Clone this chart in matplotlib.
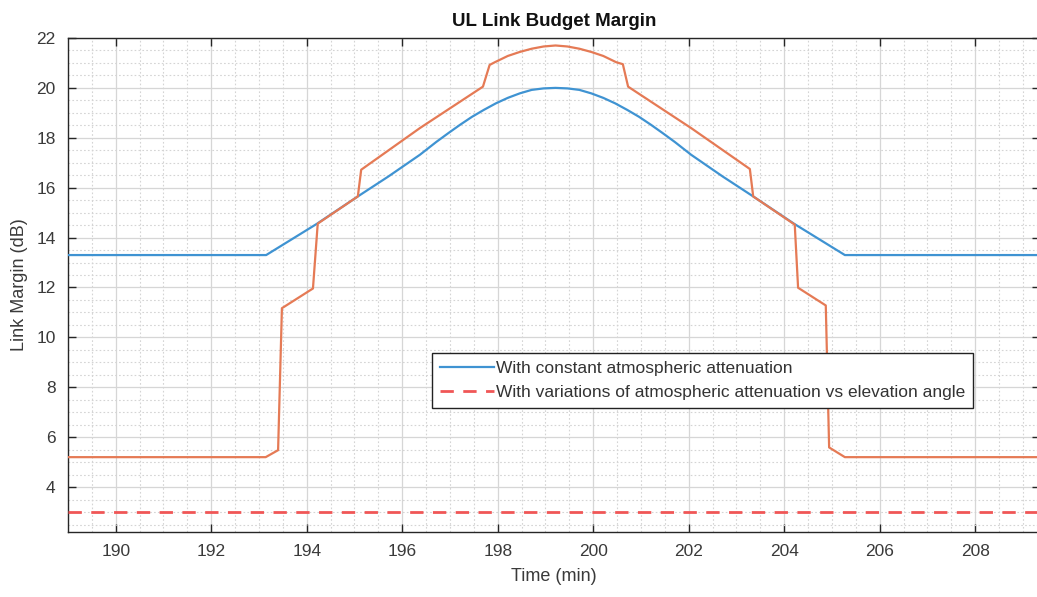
import matplotlib
matplotlib.use("Agg")
import matplotlib.pyplot as plt
from matplotlib.ticker import MultipleLocator

plt.rcParams['font.family'] = ['Liberation Sans', 'DejaVu Sans']

# Link margin with constant atmospheric attenuation (time in min, margin in dB)
t_const = [189.0, 193.15, 194.21, 195.07, 195.71, 196.37, 196.71, 196.96, 197.21,
           197.46, 197.71, 197.96, 198.21, 198.46, 198.71, 198.96, 199.21, 199.46,
           199.71, 199.96, 200.21, 200.46, 200.71, 200.96, 201.21, 201.46, 201.71,
           202.05, 202.71, 203.35, 204.21, 205.27, 209.4]
m_const = [13.3, 13.3, 14.55, 15.65, 16.45, 17.32, 17.83, 18.18, 18.52,
           18.84, 19.12, 19.38, 19.6, 19.78, 19.92, 19.98, 20.0, 19.98,
           19.92, 19.78, 19.6, 19.38, 19.12, 18.84, 18.52, 18.18, 17.83,
           17.32, 16.45, 15.65, 14.55, 13.3, 13.3]

# Link margin with attenuation varying with elevation angle
t_var = [189.0, 193.14, 193.40, 193.48, 194.13, 194.23, 195.07, 195.14, 196.37,
         197.69, 197.83, 197.94, 198.21, 198.46, 198.71, 198.96, 199.21, 199.46,
         199.71, 199.96, 200.21, 200.48, 200.62, 200.73, 202.05, 203.28, 203.35,
         204.22, 204.29, 204.87, 204.94, 205.27, 209.4]
m_var = [5.2, 5.2, 5.48, 11.17, 11.96, 14.56, 15.65, 16.72, 18.39,
         20.05, 20.92, 21.03, 21.28, 21.44, 21.57, 21.66, 21.7, 21.66,
         21.57, 21.44, 21.28, 21.03, 20.95, 20.05, 18.39, 16.75, 15.65,
         14.52, 11.99, 11.28, 5.59, 5.2, 5.2]

# Required margin threshold
threshold = 3.0

x_ticks = [190, 192, 194, 196, 198, 200, 202, 204, 206, 208]
y_ticks = [4, 6, 8, 10, 12, 14, 16, 18, 20, 22]

label_const = "With constant atmospheric attenuation"
label_var = "With variations of atmospheric attenuation vs elevation angle"

W, H = 1037, 597
fig = plt.figure(figsize=(W / 100, H / 100), dpi=100)
ax = fig.add_axes([68 / W, 65 / H, 971.7 / W, 494 / H])

dark = "#262626"
c_blue = "#3f93d2"
c_orange = "#e57a55"
c_red = "#f05656"

l1, = ax.plot(t_const, m_const, color=c_blue, lw=1.6, zorder=3)
ax.plot(t_var, m_var, color=c_orange, lw=1.6, zorder=3)
l2, = ax.plot([189.0, 209.4], [threshold, threshold], color=c_red, lw=2.0,
              dashes=(4.8, 3.4), zorder=3)

ax.set_xlim(189.0, 209.35)
ax.set_ylim(2.2, 22)
ax.set_xticks(x_ticks)
ax.set_yticks(y_ticks)
ax.xaxis.set_minor_locator(MultipleLocator(0.5))
ax.yaxis.set_minor_locator(MultipleLocator(0.5))

ax.grid(which='major', color='#d6d6d6', lw=0.9, zorder=0)
ax.grid(which='minor', color='#d4d4d4', lw=0.8, ls=(0, (1.5, 2.0)), zorder=0)

ax.tick_params(which='major', direction='in', length=6, width=1.0, color=dark,
               labelsize=12.5, labelcolor='#3a3a3a', top=True, right=True, pad=9)
ax.tick_params(which='minor', length=0, top=True, right=True)
for s in ax.spines.values():
    s.set_color(dark)
    s.set_linewidth(1.0)

ax.set_title("UL Link Budget Margin", fontsize=13.5, fontweight='bold', color='#111111', pad=9)
ax.set_xlabel("Time (min)", fontsize=13, color='#3a3a3a', labelpad=6)
ax.set_ylabel("Link Margin (dB)", fontsize=13, color='#3a3a3a', labelpad=6)

leg = ax.legend([l1, l2], [label_const, label_var], loc='upper left',
                bbox_to_anchor=(432 / W, 1 - 353 / H), bbox_transform=fig.transFigure,
                borderaxespad=0, fontsize=12.5, handlelength=3.1, handletextpad=0.15,
                labelspacing=0.5, borderpad=0.45, fancybox=False, framealpha=1,
                edgecolor='#222222', labelcolor='#333333')
leg.get_frame().set_linewidth(1.0)

fig.savefig("out.png", dpi=100)
